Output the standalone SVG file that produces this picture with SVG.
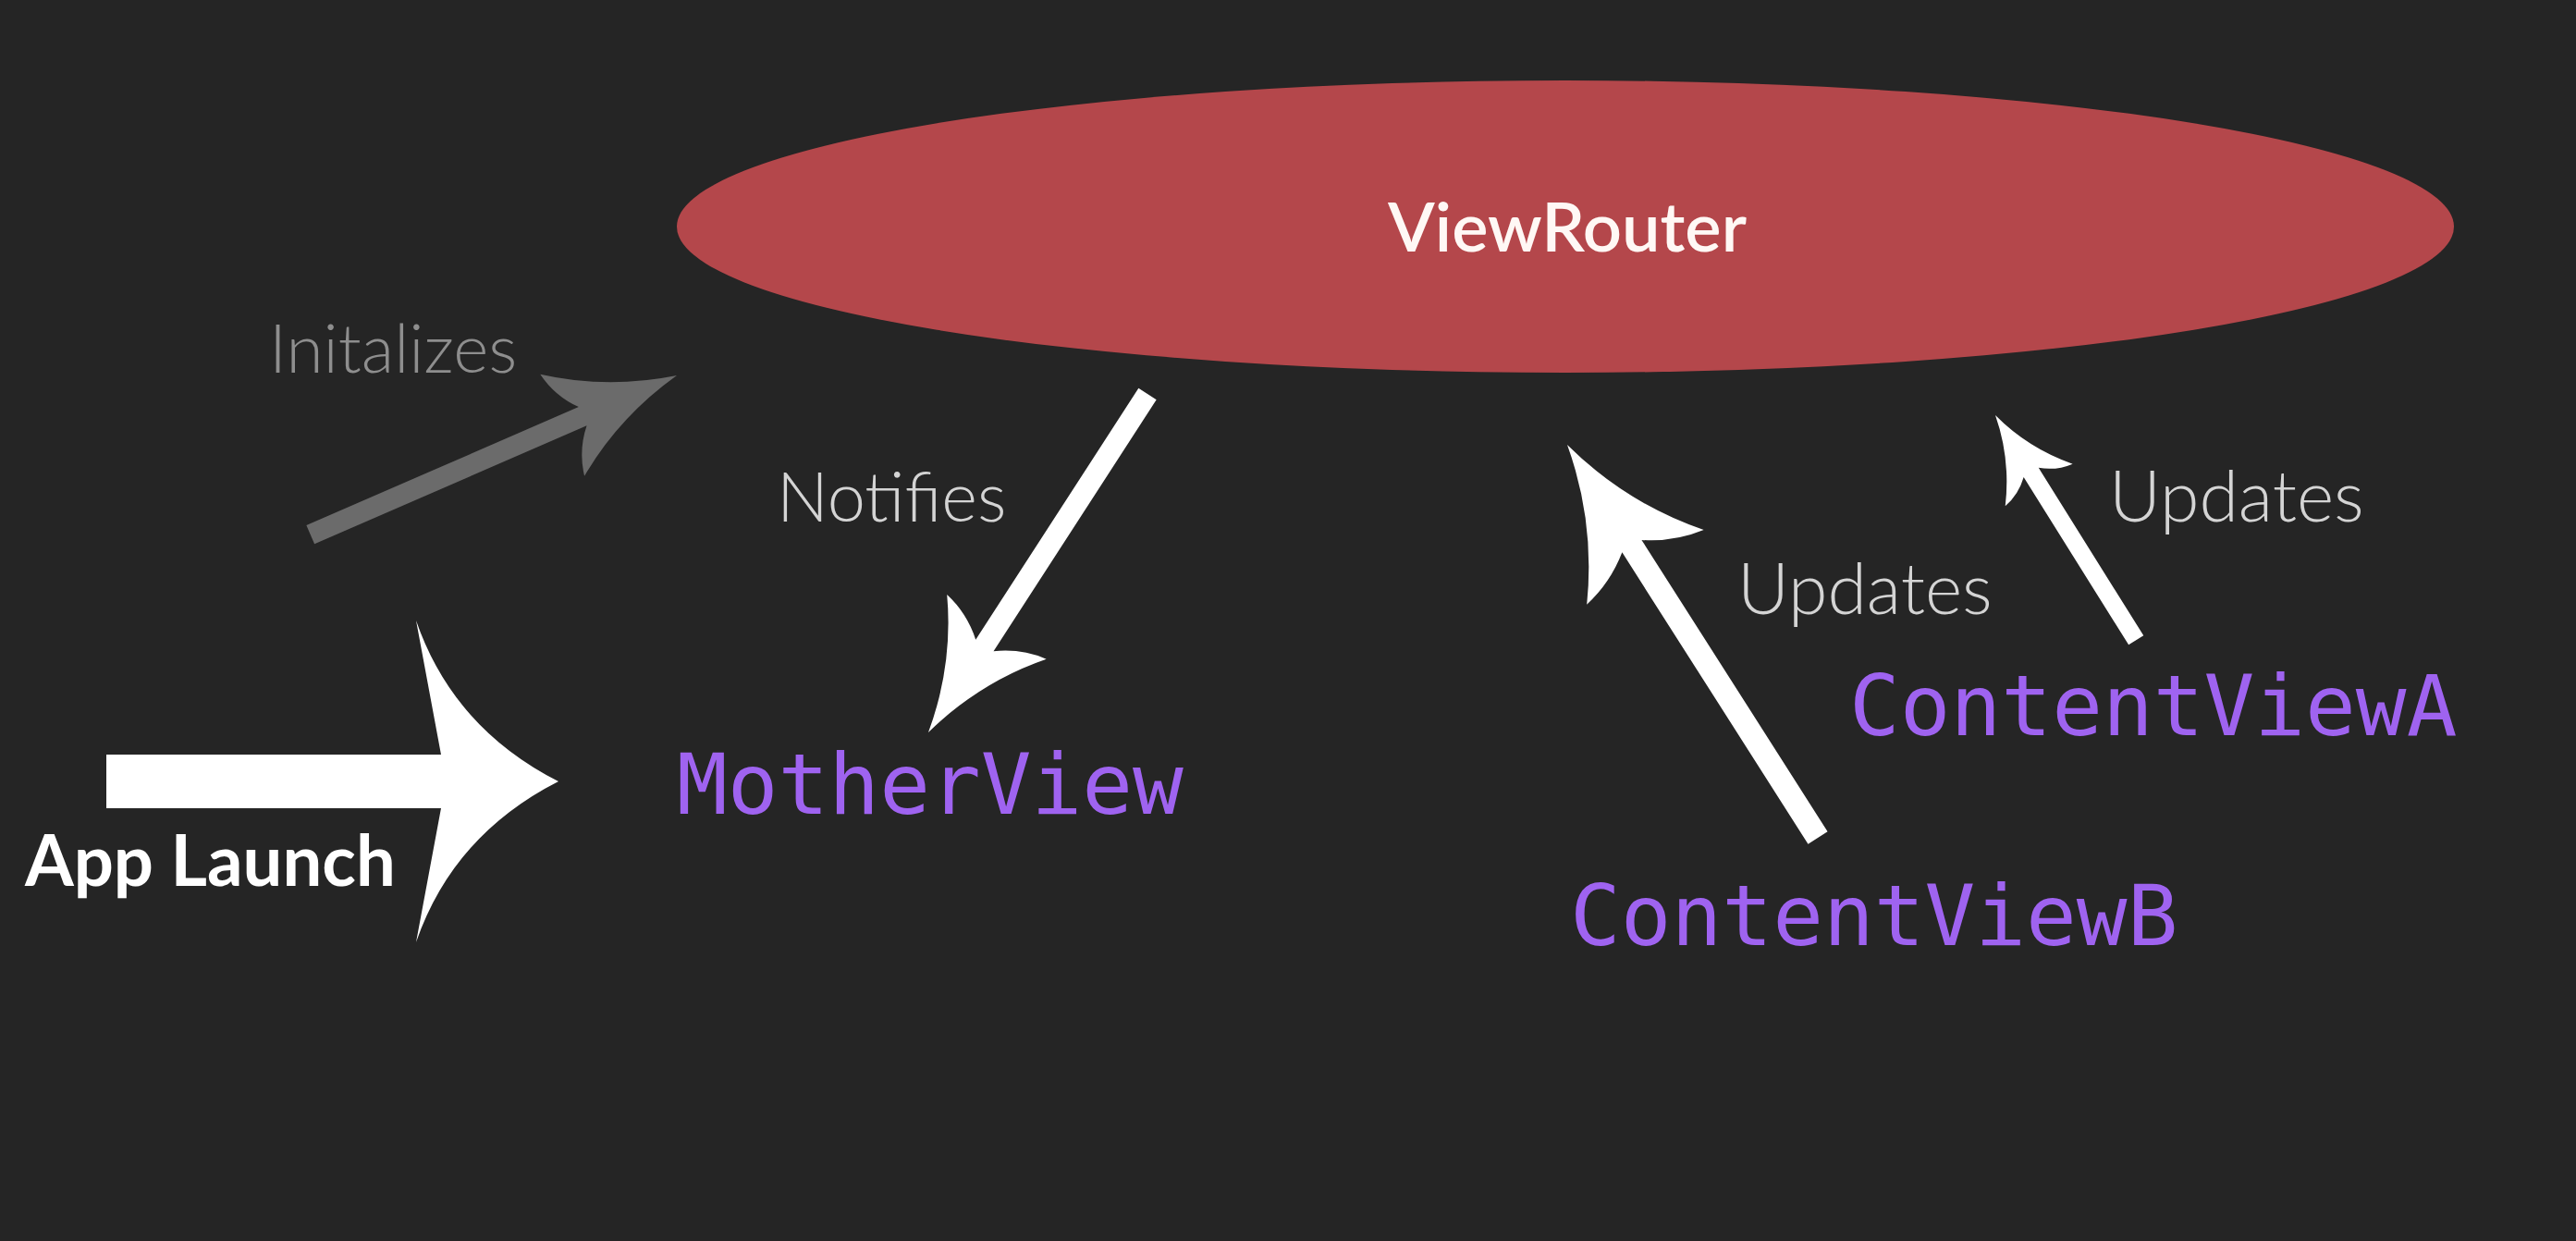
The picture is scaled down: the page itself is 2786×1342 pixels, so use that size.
<svg xmlns="http://www.w3.org/2000/svg" width="2786" height="1342" viewBox="0 0 2786 1342">
<style>
.lbl{font-family:Lato,"Noto Sans","DejaVu Sans",sans-serif;}
.mono{font-family:"DejaVu Sans Mono","Liberation Mono",monospace;font-size:91px;fill:#9f63f0;}
.edge{font-family:Lato,"Noto Sans",sans-serif;font-weight:300;fill:#d4d4d4;}
.arrow{fill:#ffffff;}
</style>
<rect x="0" y="0" width="2786" height="1342" fill="#252525"/>
<g id="viewrouter">
<ellipse cx="1693" cy="245" rx="961" ry="158" fill="#b4474b"/>
<text class="lbl" x="1695" y="272" text-anchor="middle" font-size="74" font-weight="600" fill="#fff8f5">ViewRouter</text>
</g>
<g id="motherview"><text class="mono" x="732" y="880">MotherView</text></g>
<g id="contentviewA"><text class="mono" x="2000" y="795">ContentViewA</text></g>
<g id="contentviewB"><text class="mono" x="1698" y="1022">ContentViewB</text></g>
<g id="connectors">
<g id="edge-initializes">
<path fill="#6b6b6b" transform="translate(732 406) rotate(-23.47)" d="M0,0 Q-75,-16 -135,-60 Q-130,-32 -111,-11 L-432,-11 L-432,11 L-111,11 Q-130,32 -135,60 Q-75,16 0,0 Z"/>
<text class="lbl" x="291" y="403" font-size="73" font-weight="300" fill="#8e8e8e">Initalizes</text>
</g>
<g id="edge-notifies">
<path class="arrow" transform="translate(1004 792) rotate(122.93)" d="M0,0 Q-76,-17 -136,-64 Q-131,-35 -112,-11.5 L-436,-11.5 L-436,11.5 L-112,11.5 Q-131,35 -136,64 Q-76,17 0,0 Z"/>
<text class="edge" x="840" y="564" font-size="74">Notifies</text>
</g>
<g id="edge-updates-b">
<path class="arrow" transform="translate(1695 481) rotate(-122.53)" d="M0,0 Q-87,-19.5 -157,-75 Q-151,-41 -130,-12.5 L-504,-12.5 L-504,12.5 L-130,12.5 Q-151,41 -157,75 Q-87,19.5 0,0 Z"/>
<text class="edge" x="1879" y="664" font-size="77">Updates</text>
</g>
<g id="edge-updates-a">
<path class="arrow" transform="translate(2158 449) rotate(-122.03)" d="M0,0 Q-49,-11 -89,-43 Q-86,-24 -73,-9.5 L-287,-9.5 L-287,9.5 L-73,9.5 Q-86,24 -89,43 Q-49,11 0,0 Z"/>
<text class="edge" x="2281" y="564" font-size="77">Updates</text>
</g>
<g id="edge-applaunch">
<path class="arrow" transform="translate(604 845)" d="M0,0 Q-114,-58 -154,-174 L-127,-29 L-489,-29 L-489,29 L-127,29 L-154,174 Q-114,58 0,0 Z"/>
<text class="lbl" x="27" y="958" font-size="76" font-weight="700" fill="#ffffff">App Launch</text>
</g>
</g>
</svg>
